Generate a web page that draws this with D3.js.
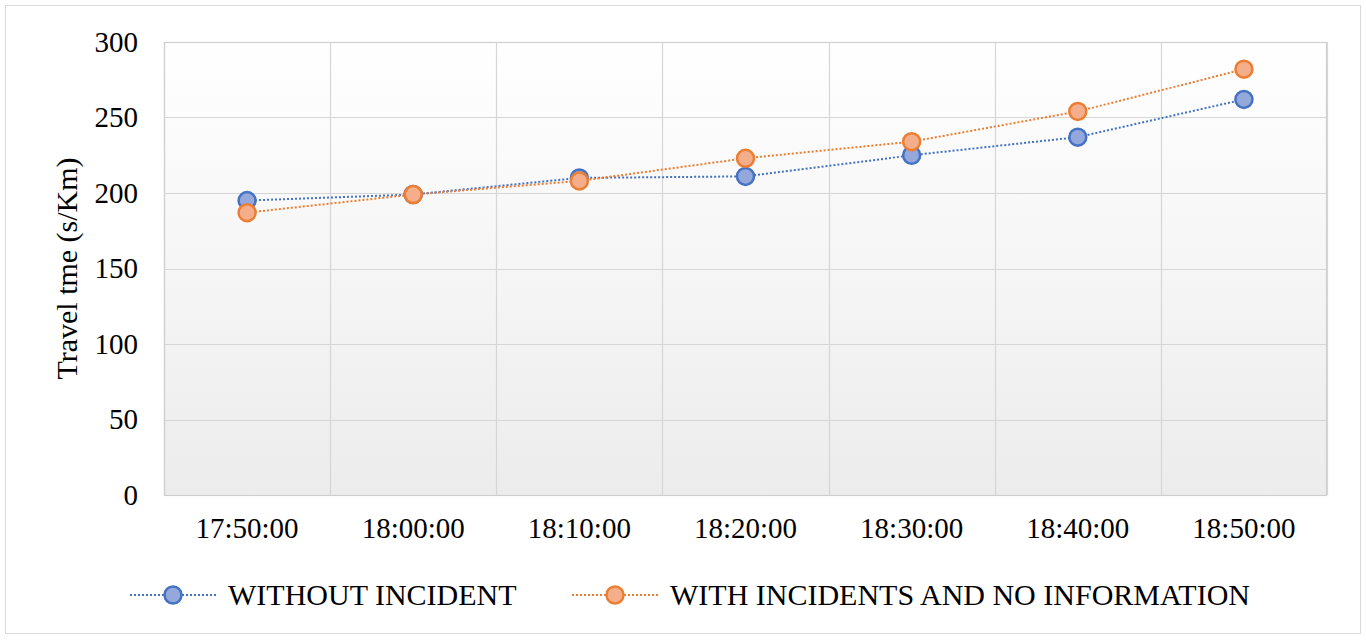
<!DOCTYPE html>
<html><head><meta charset="utf-8">
<script src="https://cdn.jsdelivr.net/npm/d3@7"></script>
<style>body{margin:0;background:#fff;} text{font-family:"Liberation Serif","Times New Roman",serif;fill:#000;}</style>
</head><body>
<svg id="c" width="1366" height="640"></svg>
<script>
const categories = ["17:50:00","18:00:00","18:10:00","18:20:00","18:30:00","18:40:00","18:50:00"];
const withoutIncident = [195, 199, 210, 211, 225, 237, 262];
const withIncidents = [187, 199, 208, 223, 234, 254, 282];
const yTicks = [0, 50, 100, 150, 200, 250, 300];
const seriesNames = ["WITHOUT INCIDENT", "WITH INCIDENTS AND NO INFORMATION"];

const svg = d3.select("#c");
const L = 164, R = 1327, T = 42, B = 495;
const fsTick = 29, fsBig = 30;

// outer border
svg.append("rect").attr("x",5.5).attr("y",5.5).attr("width",1355).attr("height",628)
  .attr("fill","#fff").attr("stroke","#d9d9d9").attr("stroke-width",1);

const defs = svg.append("defs");
const g = defs.append("linearGradient").attr("id","bg").attr("x1",0).attr("y1",0).attr("x2",0).attr("y2",1);
g.append("stop").attr("offset","0%").attr("stop-color","#ffffff");
g.append("stop").attr("offset","100%").attr("stop-color","#ececec");

const x = d3.scaleBand().domain(categories).range([L, R]).paddingInner(0).paddingOuter(0);
const y = d3.scaleLinear().domain([0, 300]).range([B, T]);

svg.append("rect").attr("x",L).attr("y",T).attr("width",R-L).attr("height",B-T).attr("fill","url(#bg)");

// horizontal gridlines
svg.append("g").selectAll("line").data(yTicks).join("line")
  .attr("x1",L).attr("x2",R).attr("y1",d=>Math.round(y(d))+0.5).attr("y2",d=>Math.round(y(d))+0.5)
  .attr("stroke","#d6d6d6").attr("stroke-width",1.2);
// vertical gridlines at band boundaries
const vb = categories.map(c=>x(c)).concat([R]);
svg.append("g").selectAll("line").data(vb).join("line")
  .attr("x1",d=>Math.round(d)+0.5).attr("x2",d=>Math.round(d)+0.5).attr("y1",T).attr("y2",B)
  .attr("stroke","#d6d6d6").attr("stroke-width",1.2);
svg.append("rect").attr("x",L+0.5).attr("y",T+0.5).attr("width",R-L-1).attr("height",B-T)
  .attr("fill","none").attr("stroke","#cfcfcf").attr("stroke-width",1.2);

// axes
const yAxis = svg.append("g").attr("transform",`translate(${L},0)`)
  .call(d3.axisLeft(y).tickValues(yTicks).tickSize(0).tickPadding(26));
yAxis.select(".domain").remove();
yAxis.selectAll("text").style("font-size",fsTick+"px").style("font-family","Liberation Serif").attr("fill","#111");

const xAxis = svg.append("g").attr("transform",`translate(0,${B})`)
  .call(d3.axisBottom(x).tickSize(0).tickPadding(22));
xAxis.select(".domain").remove();
xAxis.selectAll("text").style("font-size",fsTick+"px").style("font-family","Liberation Serif").attr("fill","#111");

svg.append("text").attr("transform",`translate(77,${(T+B)/2}) rotate(-90)`)
  .attr("text-anchor","middle").style("font-size",fsBig+"px").attr("fill","#111").text("Travel tme (s/Km)");

const series = [
  {name: seriesNames[0], values: withoutIncident, stroke:"#4472c4", fill:"#94a8db"},
  {name: seriesNames[1], values: withIncidents, stroke:"#ed7d31", fill:"#f4ae8c"}
];
const cx = c => x(c) + x.bandwidth()/2;
const line = d3.line().x((d,i)=>cx(categories[i])).y(d=>y(d));

series.forEach(s=>{
  svg.append("path").datum(s.values).attr("d",line).attr("fill","none")
    .attr("stroke",s.stroke).attr("stroke-width",2).attr("stroke-dasharray","2,2");
});
series.forEach(s=>{
  svg.append("g").selectAll("circle").data(s.values).join("circle")
    .attr("cx",(d,i)=>cx(categories[i])).attr("cy",d=>y(d)).attr("r",8.5)
    .attr("fill",s.fill).attr("stroke",s.stroke).attr("stroke-width",2.5);
});

// legend
const legendX = [130, 572];
const ly = 595;
series.forEach((s,i)=>{
  const lg = svg.append("g");
  lg.append("line").attr("x1",legendX[i]).attr("x2",legendX[i]+87).attr("y1",ly).attr("y2",ly)
    .attr("stroke",s.stroke).attr("stroke-width",2).attr("stroke-dasharray","2,2");
  lg.append("circle").attr("cx",legendX[i]+43).attr("cy",ly).attr("r",8.5)
    .attr("fill",s.fill).attr("stroke",s.stroke).attr("stroke-width",2.5);
  lg.append("text").attr("x",legendX[i]+98).attr("y",ly+10).style("font-size",fsBig+"px").attr("fill","#111").text(s.name);
});
</script>
</body></html>
